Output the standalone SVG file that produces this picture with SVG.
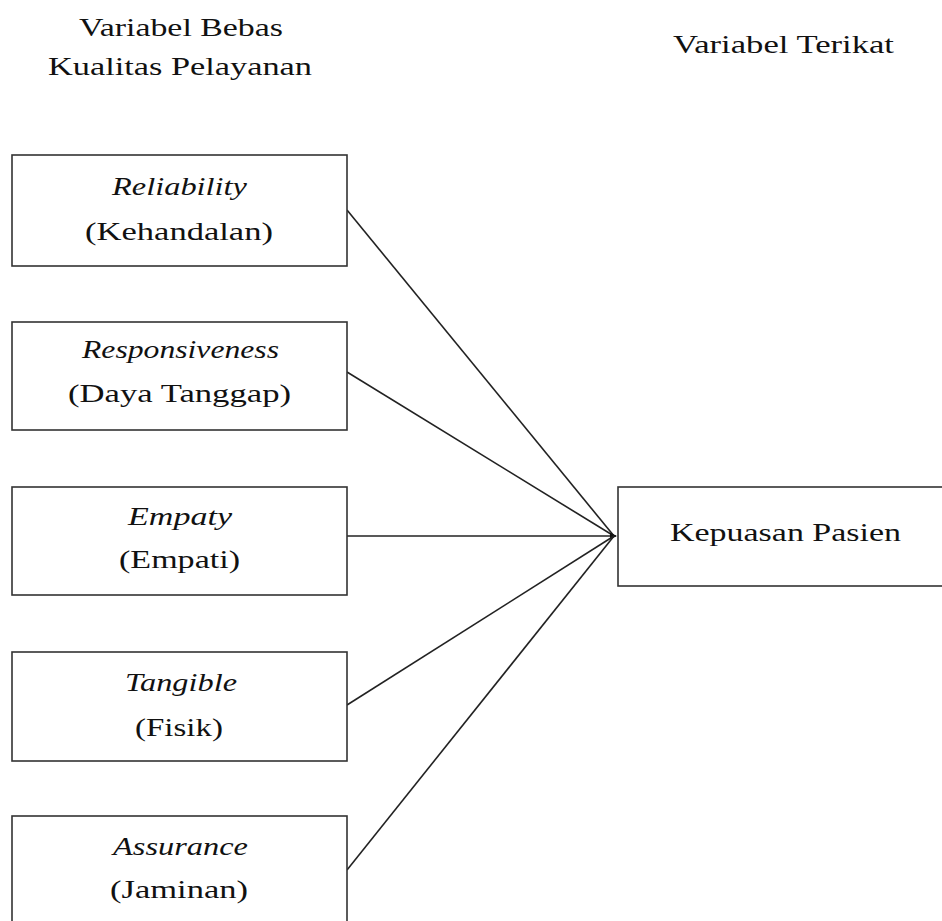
<svg xmlns="http://www.w3.org/2000/svg" width="942" height="921" viewBox="0 0 942 921">
<style>
  text { font-family: "Liberation Serif", "Times New Roman", Times, serif; font-size: 25px; fill: #111111; }
  .it { font-style: italic; }
  .box { fill: #ffffff; stroke: #333333; stroke-width: 1.6; }
  .conn line { stroke: #222222; stroke-width: 1.6; }
</style>
<defs>
  <marker id="arr" markerWidth="8" markerHeight="8" refX="6" refY="3.5" orient="auto" markerUnits="userSpaceOnUse">
    <path d="M0,0 L7,3.5 L0,7 Z" fill="#111111"/>
  </marker>
</defs>
<rect width="942" height="921" fill="#ffffff"/>

<g id="headers">
  <text x="79" y="36" textLength="204" lengthAdjust="spacingAndGlyphs">Variabel Bebas</text>
  <text x="48" y="75" textLength="264" lengthAdjust="spacingAndGlyphs">Kualitas Pelayanan</text>
  <text x="673" y="53" textLength="221" lengthAdjust="spacingAndGlyphs">Variabel Terikat</text>
</g>

<g class="conn" id="connectors">
  <line x1="347" y1="210" x2="614" y2="536"/>
  <line x1="347" y1="372" x2="614" y2="536"/>
  <line x1="347" y1="536" x2="616" y2="536" marker-end="url(#arr)"/>
  <line x1="347" y1="705" x2="614" y2="536"/>
  <line x1="347" y1="870" x2="614" y2="536"/>
</g>

<g id="reliability">
  <rect class="box" x="12" y="155" width="335" height="111"/>
  <text class="it" x="112" y="195" textLength="135" lengthAdjust="spacingAndGlyphs">Reliability</text>
  <text x="85" y="240" textLength="188" lengthAdjust="spacingAndGlyphs">(Kehandalan)</text>
</g>

<g id="responsiveness">
  <rect class="box" x="12" y="322" width="335" height="108"/>
  <text class="it" x="82" y="358" textLength="197" lengthAdjust="spacingAndGlyphs">Responsiveness</text>
  <text x="68" y="402" textLength="223" lengthAdjust="spacingAndGlyphs">(Daya Tanggap)</text>
</g>

<g id="empaty">
  <rect class="box" x="12" y="487" width="335" height="108"/>
  <text class="it" x="128" y="525" textLength="104" lengthAdjust="spacingAndGlyphs">Empaty</text>
  <text x="119" y="568" textLength="121" lengthAdjust="spacingAndGlyphs">(Empati)</text>
</g>

<g id="tangible">
  <rect class="box" x="12" y="652" width="335" height="109"/>
  <text class="it" x="125" y="691" textLength="112" lengthAdjust="spacingAndGlyphs">Tangible</text>
  <text x="135" y="736" textLength="88" lengthAdjust="spacingAndGlyphs">(Fisik)</text>
</g>

<g id="assurance">
  <rect class="box" x="12" y="816" width="335" height="115"/>
  <text class="it" x="113" y="855" textLength="135" lengthAdjust="spacingAndGlyphs">Assurance</text>
  <text x="110" y="898" textLength="138" lengthAdjust="spacingAndGlyphs">(Jaminan)</text>
</g>

<g id="kepuasan">
  <rect class="box" x="618" y="487" width="340" height="99"/>
  <text x="670" y="541" textLength="231" lengthAdjust="spacingAndGlyphs">Kepuasan Pasien</text>
</g>
</svg>
